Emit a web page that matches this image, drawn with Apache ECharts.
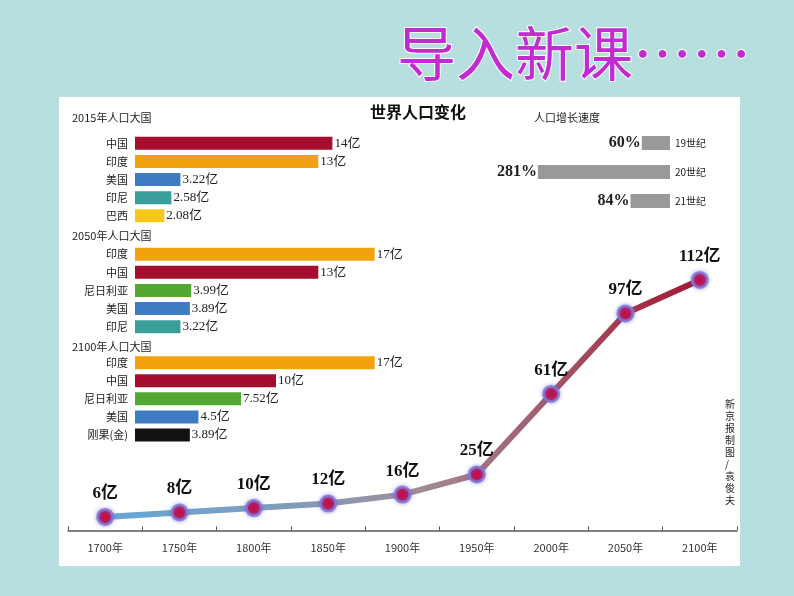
<!DOCTYPE html>
<html><head><meta charset="utf-8">
<script src="https://cdn.jsdelivr.net/npm/echarts@6/dist/echarts.min.js"></script>
<style>html,body{margin:0;padding:0;background:#b8dfe0;}#c{width:794px;height:596px;}</style>
</head><body><div id="c"></div>
<script>
// ---- data ----
const g2015Names = ['中国','印度','美国','印尼','巴西'];
const g2015Vals  = [14, 13, 3.22, 2.58, 2.08];
const g2015Cols  = ['#a50e2d','#f2a20f','#3d7cc0','#3a9e9a','#f7c81a'];
const g2050Names = ['印度','中国','尼日利亚','美国','印尼'];
const g2050Vals  = [17, 13, 3.99, 3.89, 3.22];
const g2050Cols  = ['#f2a20f','#a50e2d','#52a832','#3d7cc0','#3a9e9a'];
const g2100Names = ['印度','中国','尼日利亚','美国','刚果(金)'];
const g2100Vals  = [17, 10, 7.52, 4.5, 3.89];
const g2100Cols  = ['#f2a20f','#a50e2d','#52a832','#3d7cc0','#111111'];
const speedNames = ['19世纪','20世纪','21世纪'];
const speedVals  = [60, 281, 84];
const years      = ['1700年','1750年','1800年','1850年','1900年','1950年','2000年','2050年','2100年'];
const population = [6, 8, 10, 12, 16, 25, 61, 97, 112];

const CJK = '"Noto Sans CJK SC", sans-serif';
const SERIF = '"Liberation Serif", "Noto Sans CJK SC", serif';

const chart = echarts.init(document.getElementById('c'));

function barGrid(idx, top) {
  return { left: 135, right: 377, top: top, height: 90.5 };
}
function barX(idx) {
  return { gridIndex: idx, type: 'value', min: 0, max: 20, show: false };
}
function barY(idx, names) {
  return { gridIndex: idx, type: 'category', data: names, inverse: true,
    axisLine: {show:false}, axisTick: {show:false}, splitLine:{show:false},
    axisLabel: { fontFamily: CJK, fontSize: 11, color: '#222', margin: 7 } };
}
function barSeries(idx, vals, cols) {
  return { type: 'bar', xAxisIndex: idx, yAxisIndex: idx, barWidth: 13,
    data: vals.map((v, i) => ({ value: v, itemStyle: { color: cols[i] } })),
    label: { show: true, position: 'right', distance: 2, formatter: '{c}亿',
      fontFamily: SERIF, fontSize: 13, color: '#222' },
    silent: true };
}

chart.setOption({
  backgroundColor: '#b8dfe0',
  animation: false,
  graphic: [
    { type: 'rect', shape: { x: 59, y: 97, width: 681, height: 469 }, style: { fill: '#ffffff' }, z: -10 },
    { type: 'text', left: 396, top: 23, z: 10,
      style: { text: '导入新课……', font: '59px "Noto Sans CJK SC"', fill: '#c22ad2',
        stroke: '#ffffff', lineWidth: 2,
        shadowColor: 'rgba(80,90,200,0.6)', shadowOffsetX: 3, shadowOffsetY: 3, shadowBlur: 2 } },
    { type: 'text', left: 370, top: 104, style: { text: '世界人口变化', font: 'bold 16px "Noto Sans CJK SC"', fill: '#111' } },
    { type: 'text', left: 72, top: 112, style: { text: '2015年人口大国', font: '11px "Noto Sans CJK SC"', fill: '#222' } },
    { type: 'text', left: 72, top: 230, style: { text: '2050年人口大国', font: '11px "Noto Sans CJK SC"', fill: '#222' } },
    { type: 'text', left: 72, top: 341, style: { text: '2100年人口大国', font: '11px "Noto Sans CJK SC"', fill: '#222' } },
    { type: 'text', left: 534, top: 112, style: { text: '人口增长速度', font: '11px "Noto Sans CJK SC"', fill: '#222' } },
    { type: 'text', left: 725, top: 398, style: { text: '新\n京\n报\n制\n图\n/\n袁\n俊\n夫', font: '10px "Noto Sans CJK SC"', fill: '#222', lineHeight: 12 } }
  ],
  grid: [
    barGrid(0, 134.3),
    barGrid(1, 245.2),
    barGrid(2, 353.6),
    { left: 529, right: 124, top: 128.5, height: 87 },
    { left: 68, right: 57, top: 262, bottom: 65.6 }
  ],
  xAxis: [
    barX(0), barX(1), barX(2),
    { gridIndex: 3, type: 'value', min: 0, max: 300, inverse: true, show: false },
    { gridIndex: 4, type: 'category', data: years, boundaryGap: true,
      axisLine: { lineStyle: { color: '#555', width: 1.5 } },
      axisTick: { show: true, inside: true, length: 4, lineStyle: { color: '#555' } },
      axisLabel: { fontFamily: CJK, fontSize: 11, color: '#333', margin: 12 } }
  ],
  yAxis: [
    barY(0, g2015Names), barY(1, g2050Names), barY(2, g2100Names),
    { gridIndex: 3, type: 'category', data: speedNames, inverse: true, position: 'right',
      axisLine: {show:false}, axisTick: {show:false},
      axisLabel: { fontFamily: CJK, fontSize: 10, color: '#222', margin: 5 } },
    { gridIndex: 4, type: 'value', min: 0, max: 120, show: false, splitLine: { show: false } }
  ],
  series: [
    barSeries(0, g2015Vals, g2015Cols),
    barSeries(1, g2050Vals, g2050Cols),
    barSeries(2, g2100Vals, g2100Cols),
    { type: 'bar', xAxisIndex: 3, yAxisIndex: 3, barWidth: 14, data: speedVals,
      itemStyle: { color: '#999999' },
      label: { show: true, position: 'left', distance: 1, formatter: '{c}%',
        fontFamily: SERIF, fontSize: 16, fontWeight: 'bold', color: '#222' } },
    { type: 'line', xAxisIndex: 4, yAxisIndex: 4, data: population,
      symbol: 'circle', symbolSize: 15,
      lineStyle: { width: 6, color: new echarts.graphic.LinearGradient(0, 0, 1, 0, [
        { offset: 0, color: '#62a8d8' },
        { offset: 0.4, color: '#8c98b0' },
        { offset: 0.52, color: '#a08c96' },
        { offset: 0.72, color: '#a06070' },
        { offset: 1, color: '#a01530' }
      ]) },
      itemStyle: { color: '#c0104a', borderColor: 'rgba(130,120,215,0.85)', borderWidth: 3,
        shadowColor: 'rgba(110,110,220,0.6)', shadowBlur: 4 },
      label: { show: true, position: 'top', distance: 6, formatter: '{c}亿',
        fontFamily: SERIF, fontSize: 17, fontWeight: 'bold', color: '#111' } }
  ]
});
</script></body></html>
